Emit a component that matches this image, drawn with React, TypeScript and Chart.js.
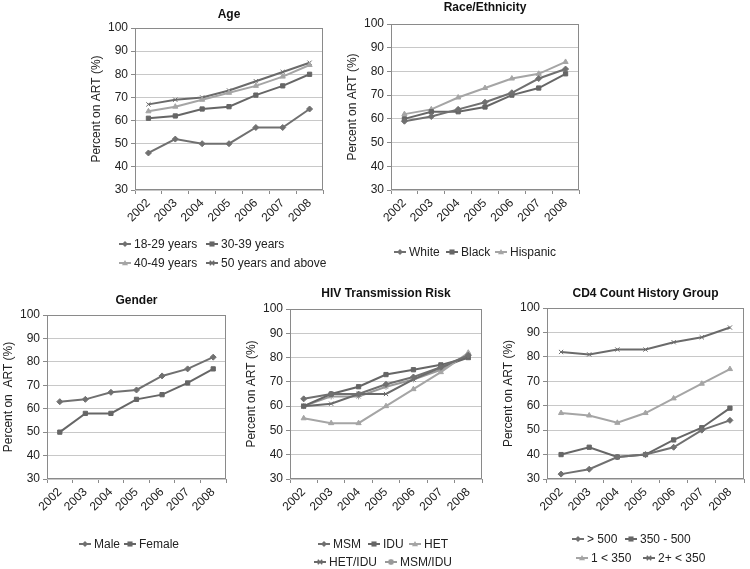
import React, { useEffect, useRef } from 'react';
import { Chart, registerables } from 'chart.js';

Chart.register(...registerables);

// ---------- data ----------
const years = ['2002', '2003', '2004', '2005', '2006', '2007', '2008'];
const Y_MIN = 30;
const Y_MAX = 100;
const Y_STEP = 10;
const yAxisTitle = 'Percent on ART (%)';

const ageNames = ['18-29 years', '30-39 years', '40-49 years', '50 years and above'];
const age18to29 = [46, 52, 50, 50, 57, 57, 65];
const age30to39 = [61, 62, 65, 66, 71, 75, 80];
const age40to49 = [64, 66, 69, 72, 75, 79, 84];
const age50plus = [67, 69, 70, 73, 77, 81, 85];

const raceNames = ['White', 'Black', 'Hispanic'];
const raceWhite = [59, 61, 64, 67, 71, 77, 81];
const raceBlack = [60, 63, 63, 65, 70, 73, 79];
const raceHispanic = [62, 64, 69, 73, 77, 79, 84];

const genderNames = ['Male', 'Female'];
const genderMale = [63, 64, 67, 68, 74, 77, 82];
const genderFemale = [50, 58, 58, 64, 66, 71, 77];

const riskNames = ['MSM', 'IDU', 'HET', 'HET/IDU', 'MSM/IDU'];
const riskMSM = [63, 65, 65, 69, 72, 76, 81];
const riskIDU = [60, 65, 68, 73, 75, 77, 80];
const riskHET = [55, 53, 53, 60, 67, 74, 82];
const riskHETIDU = [60, 61, 65, 65, 71, 76, 80];
const riskMSMIDU = [60, 64, 64, 68, 71, 75, 81];

const cd4Names = ['> 500', '350 - 500', '1 < 350', '2+ < 350'];
const cd4Over500 = [32, 34, 39, 40, 43, 50, 54];
const cd4From350to500 = [40, 43, 39, 40, 46, 51, 59];
const cd4One350 = [57, 56, 53, 57, 63, 69, 75];
const cd4TwoPlus350 = [82, 81, 83, 83, 86, 88, 92];

// ---------- styles ----------
const FONT = '"Liberation Sans", Arial, Helvetica, sans-serif';
const seriesColors = ['#707070', '#666666', '#a5a5a5', '#6a6a6a', '#999999'];
const seriesMarkers = ['rectRot', 'rect', 'triangle', 'crossRot', 'star'];
const Y_AXIS_W = 46;
const X_AXIS_H = 40;

type LegendPos = { x: number; y: number; i: number };
type PanelDef = {
  title: string;
  yTitle: string;
  names: string[];
  series: number[][];
  plot: { L: number; T: number; R: number; B: number };
  canvasTop: number;
  canvasBottom: number;
  titleY: number;
  legend: LegendPos[];
};

const panels: PanelDef[] = [
  {
    title: 'Age',
    yTitle: yAxisTitle,
    names: ageNames,
    series: [age18to29, age30to39, age40to49, age50plus],
    plot: { L: 135, T: 28, R: 325, B: 190 },
    canvasTop: 0,
    canvasBottom: 285,
    titleY: 15,
    legend: [
      { x: 119, y: 244, i: 0 },
      { x: 206, y: 244, i: 1 },
      { x: 119, y: 263, i: 2 },
      { x: 206, y: 263, i: 3 },
    ],
  },
  {
    title: 'Race/Ethnicity',
    yTitle: yAxisTitle,
    names: raceNames,
    series: [raceWhite, raceBlack, raceHispanic],
    plot: { L: 391, T: 24, R: 581, B: 190 },
    canvasTop: 0,
    canvasBottom: 285,
    titleY: 8,
    legend: [
      { x: 394, y: 252, i: 0 },
      { x: 446, y: 252, i: 1 },
      { x: 495, y: 252, i: 2 },
    ],
  },
  {
    title: 'Gender',
    yTitle: 'Percent on  ART (%)',
    names: genderNames,
    series: [genderMale, genderFemale],
    plot: { L: 47, T: 315, R: 228, B: 479 },
    canvasTop: 285,
    canvasBottom: 569,
    titleY: 301,
    legend: [
      { x: 79, y: 544, i: 0 },
      { x: 124, y: 544, i: 1 },
    ],
  },
  {
    title: 'HIV Transmission Risk',
    yTitle: yAxisTitle,
    names: riskNames,
    series: [riskMSM, riskIDU, riskHET, riskHETIDU, riskMSMIDU],
    plot: { L: 290, T: 309, R: 484, B: 479 },
    canvasTop: 285,
    canvasBottom: 569,
    titleY: 294,
    legend: [
      { x: 318, y: 544, i: 0 },
      { x: 368, y: 544, i: 1 },
      { x: 409, y: 544, i: 2 },
      { x: 314, y: 562, i: 3 },
      { x: 385, y: 562, i: 4 },
    ],
  },
  {
    title: 'CD4 Count History Group',
    yTitle: yAxisTitle,
    names: cd4Names,
    series: [cd4Over500, cd4From350to500, cd4One350, cd4TwoPlus350],
    plot: { L: 547, T: 308, R: 746, B: 479 },
    canvasTop: 285,
    canvasBottom: 569,
    titleY: 294,
    legend: [
      { x: 572, y: 539, i: 0 },
      { x: 625, y: 539, i: 1 },
      { x: 576, y: 558, i: 2 },
      { x: 643, y: 558, i: 3 },
    ],
  },
];

// ---------- helpers ----------
function drawMarker(ctx: CanvasRenderingContext2D, style: string, x: number, y: number, r: number, color: string) {
  ctx.save();
  ctx.fillStyle = color;
  ctx.strokeStyle = color;
  ctx.lineWidth = 1.5;
  ctx.beginPath();
  if (style === 'rectRot') {
    ctx.moveTo(x, y - r);
    ctx.lineTo(x + r, y);
    ctx.lineTo(x, y + r);
    ctx.lineTo(x - r, y);
    ctx.closePath();
    ctx.fill();
  } else if (style === 'rect') {
    const s = r * 0.85;
    ctx.rect(x - s, y - s, s * 2, s * 2);
    ctx.fill();
  } else if (style === 'triangle') {
    ctx.moveTo(x, y - r);
    ctx.lineTo(x + r, y + r * 0.75);
    ctx.lineTo(x - r, y + r * 0.75);
    ctx.closePath();
    ctx.fill();
  } else {
    const d = r * 0.75;
    ctx.moveTo(x - d, y - d);
    ctx.lineTo(x + d, y + d);
    ctx.moveTo(x - d, y + d);
    ctx.lineTo(x + d, y - d);
    if (style === 'star') {
      ctx.moveTo(x, y - r);
      ctx.lineTo(x, y + r);
    }
    ctx.stroke();
  }
  ctx.restore();
}

const framePlugin = {
  id: 'frame',
  beforeDatasetsDraw(chart: any) {
    const { ctx, chartArea: a } = chart;
    ctx.save();
    ctx.strokeStyle = '#8a8a8a';
    ctx.lineWidth = 1;
    const l = Math.round(a.left) + 0.5;
    const t = Math.round(a.top) + 0.5;
    const r = Math.round(a.right) - 0.5;
    const b = Math.round(a.bottom) - 0.5;
    ctx.strokeRect(l, t, r - l, b - t);
    ctx.restore();
  },
};

const lineLegendPlugin = {
  id: 'lineLegend',
  afterDraw(chart: any, _args: any, opts: any) {
    const { ctx } = chart;
    const items: LegendPos[] = opts.items || [];
    const ox = opts.originX || 0;
    const oy = opts.originY || 0;
    ctx.save();
    ctx.font = `12px ${FONT}`;
    ctx.textBaseline = 'middle';
    ctx.textAlign = 'left';
    items.forEach((it) => {
      const ds = chart.data.datasets[it.i];
      const x = it.x - ox;
      const y = it.y - oy;
      ctx.strokeStyle = ds.borderColor;
      ctx.lineWidth = 2;
      ctx.beginPath();
      ctx.moveTo(x, y);
      ctx.lineTo(x + 12, y);
      ctx.stroke();
      drawMarker(ctx, ds.pointStyle, x + 6, y, 3, ds.borderColor);
      ctx.fillStyle = '#222222';
      ctx.fillText(ds.label, x + 15, y + 0.5);
    });
    ctx.restore();
  },
};

function PanelChart({ p }: { p: PanelDef }) {
  const ref = useRef<HTMLCanvasElement | null>(null);
  const canvasLeft = p.plot.L - Y_AXIS_W;
  const canvasWidth = p.plot.R - canvasLeft + 3;
  const canvasHeight = p.canvasBottom - p.canvasTop;

  useEffect(() => {
    if (!ref.current) return;
    const titlePadTop = p.titleY - p.canvasTop - 7.2;
    const titlePadBottom = p.plot.T - p.titleY - 7.2;
    const padBottom = p.canvasBottom - p.plot.B - X_AXIS_H;
    const chart = new Chart(ref.current, {
      type: 'line',
      data: {
        labels: years,
        datasets: p.series.map((vals, i) => ({
          label: p.names[i],
          data: vals,
          borderColor: seriesColors[i],
          backgroundColor: seriesColors[i],
          pointBackgroundColor: seriesColors[i],
          pointBorderColor: seriesColors[i],
          pointStyle: seriesMarkers[i] as any,
          pointRadius: 3,
          pointBorderWidth: 1,
          borderWidth: 2,
          tension: 0,
          fill: false,
        })),
      },
      options: {
        responsive: false,
        animation: false,
        devicePixelRatio: 1,
        layout: { padding: { left: 0, right: 3, top: 0, bottom: padBottom } },
        font: { family: FONT, size: 12 },
        plugins: {
          legend: { display: false },
          tooltip: { enabled: false },
          title: {
            display: true,
            text: p.title,
            fullSize: false,
            color: '#111111',
            font: { family: FONT, size: 12, weight: 'bold', lineHeight: 1.2 },
            padding: { top: titlePadTop, bottom: titlePadBottom },
          },
          lineLegend: { items: p.legend, originX: canvasLeft, originY: p.canvasTop },
        } as any,
        scales: {
          x: {
            type: 'category',
            offset: true,
            afterFit: (s: any) => {
              s.height = X_AXIS_H;
            },
            grid: {
              display: true,
              drawOnChartArea: false,
              drawTicks: true,
              tickLength: 4,
              offset: true,
              tickColor: '#8a8a8a',
              color: '#8a8a8a',
            },
            border: { display: false },
            ticks: {
              autoSkip: false,
              minRotation: 45,
              maxRotation: 45,
              padding: 2,
              color: '#222222',
              font: { family: FONT, size: 12 },
            },
          },
          y: {
            min: Y_MIN,
            max: Y_MAX,
            afterFit: (s: any) => {
              s.width = Y_AXIS_W;
            },
            grid: {
              color: '#c8c8c8',
              tickColor: '#8a8a8a',
              drawTicks: true,
              tickLength: 4,
            },
            border: { display: false },
            ticks: {
              stepSize: Y_STEP,
              padding: 3,
              color: '#222222',
              font: { family: FONT, size: 12 },
            },
            title: {
              display: true,
              text: p.yTitle,
              color: '#222222',
              font: { family: FONT, size: 12, lineHeight: 1.2 },
              padding: { top: 0, bottom: 0 },
            },
          },
        },
      },
      plugins: [framePlugin, lineLegendPlugin],
    });
    return () => chart.destroy();
  }, []);

  return (
    <canvas
      ref={ref}
      width={canvasWidth}
      height={canvasHeight}
      style={{
        position: 'absolute',
        left: canvasLeft,
        top: p.canvasTop,
        width: canvasWidth,
        height: canvasHeight,
      }}
    />
  );
}

export default function App() {
  return (
    <div
      style={{
        position: 'absolute',
        left: 0,
        top: 0,
        width: 750,
        height: 569,
        background: '#ffffff',
        overflow: 'hidden',
      }}
    >
      {panels.map((p, i) => (
        <PanelChart key={i} p={p} />
      ))}
    </div>
  );
}
